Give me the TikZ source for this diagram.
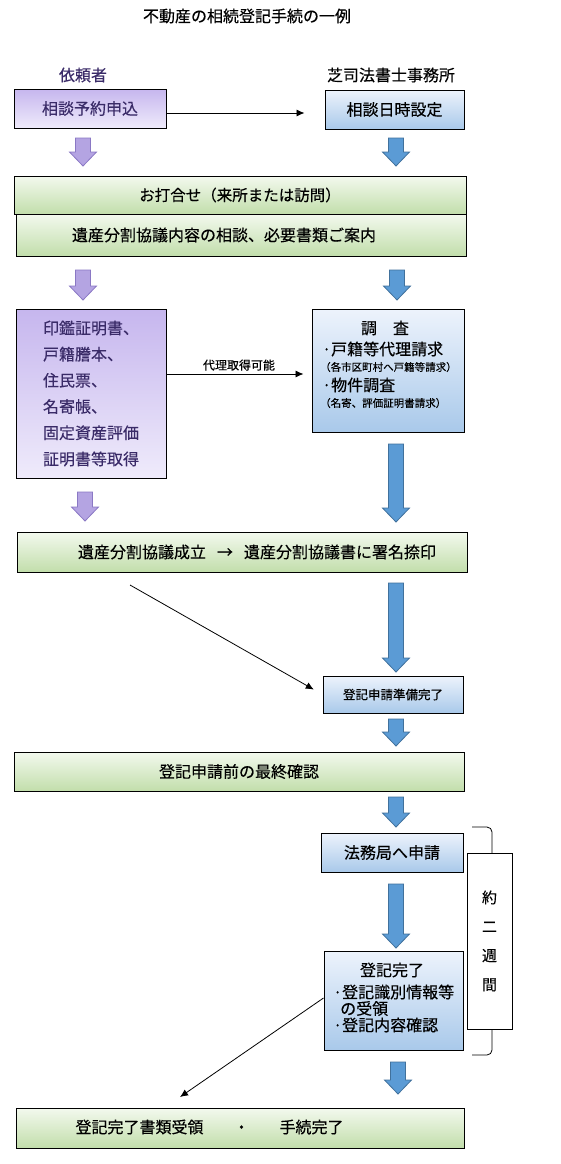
\documentclass[tikz,border=0pt]{standalone}
\usepackage{fontspec}
\setmainfont{Noto Sans CJK JP}[FakeBold=0.35]
\usetikzlibrary{arrows.meta,calc,positioning}
\def\ShaftW{7.5}
\def\HeadW{13.5}
\def\HeadH{14}
\definecolor{purpleTop}{HTML}{C6B6EE}
\definecolor{purpleBot}{HTML}{EFEBFB}
\definecolor{purpleText}{HTML}{3A2B68}
\definecolor{blueTop}{HTML}{EDF3FC}
\definecolor{blueBot}{HTML}{A9C9EA}
\definecolor{greenTop}{HTML}{F3F9EE}
\definecolor{greenBot}{HTML}{C2DEAB}
\definecolor{arrBlue}{HTML}{5B9BD5}
\definecolor{arrBlueLine}{HTML}{41719C}
\definecolor{arrPurple}{HTML}{B4A4E2}
\definecolor{arrPurpleLine}{HTML}{8A78C4}
\tikzset{
  box/.style={draw=black, line width=1pt, inner sep=0pt},
  greenbox/.style={box, top color=greenTop, bottom color=greenBot},
  bluebox/.style={box, top color=blueTop, bottom color=blueBot},
  purplebox/.style={box, top color=purpleTop, bottom color=purpleBot, text=purpleText},
  txt/.style={inner sep=0pt, font=\fontsize{16}{18}\selectfont},
  small/.style={inner sep=0pt, font=\fontsize{10.5}{12}\selectfont},
  link/.style={line width=0.8pt, -{Latex[length=8pt,width=7pt]}},
}
% block arrow: x, top, bottom, fill, line
\newcommand\FlowArrow[5]{%
  \draw[fill=#4, draw=#5, line width=0.8pt]
    (#1-\ShaftW,#2) -- (#1+\ShaftW,#2) -- (#1+\ShaftW,#3-\HeadH) -- (#1+\HeadW,#3-\HeadH)
    -- (#1,#3) -- (#1-\HeadW,#3-\HeadH) -- (#1-\ShaftW,#3-\HeadH) -- cycle;}

\begin{document}
\begin{tikzpicture}[x=1pt, y=-1pt]
\useasboundingbox[fill=white] (0,0) rectangle (561,1164);

\node[txt] (title) at (247,16) {不動産の相続登記手続の一例};
\node[txt, text=purpleText] (client) at (83,75) {依頼者};
\node[txt] (office) at (391,75) {芝司法書士事務所};

% first row
\node[purplebox, minimum width=152pt, minimum height=39pt, txt] (req) at (90,108.5) {相談予約申込};
\node[bluebox, minimum width=139pt, minimum height=39pt, txt] (set) at (394.5,109.5) {相談日時設定};
\draw[link, shorten >=20pt] (req.east |- 0,113) -- (set.west |- 0,113);

\FlowArrow{83}{138}{166}{arrPurple}{arrPurpleLine}
\FlowArrow{396}{138}{166}{arrBlue}{arrBlueLine}

% meeting
\node[greenbox, minimum width=452pt, minimum height=38pt, txt, font=\fontsize{15.5}{18}\selectfont] (meet) at (240,195) {お打合せ（来所または訪問）};
\node[greenbox, minimum width=450pt, minimum height=42pt] (guide) at (241,235) {};
\node[txt] (guidet) at (224,235) {遺産分割協議内容の相談、必要書類ご案内};

\FlowArrow{83}{270}{300}{arrPurple}{arrPurpleLine}
\FlowArrow{397}{270}{300}{arrBlue}{arrBlueLine}

% documents and survey
\node[purplebox, minimum width=150pt, minimum height=169pt, align=left,
  font=\fontsize{16}{26.2}\selectfont] (docs) at (91,393.5)
  {印鑑証明書、\\戸籍謄本、\\住民票、\\名寄帳、\\固定資産評価\\証明書等取得};
\node[bluebox, minimum width=152pt, minimum height=123pt] (svy) at (388,370.5) {};
\node[txt] (svyt) at (385,328) {調　査};
\node[txt, anchor=west] (svy1) at (322,349) {·戸籍等代理請求};
\node[small, anchor=west] (svy2) at (320,367) {（各市区町村へ戸籍等請求）};
\node[txt, anchor=west] (svy3) at (322,385) {·物件調査};
\node[small, anchor=west] (svy4) at (320,403) {（名寄、評価証明書請求）};
\draw[link, shorten >=8pt] (docs.east |- 0,374) -- node[above=3pt, inner sep=0pt,
  font=\fontsize{12}{13}\selectfont] (proxy) {代理取得可能} (svy.west |- 0,374);

\FlowArrow{396}{444}{522}{arrBlue}{arrBlueLine}
\FlowArrow{85}{492}{521}{arrPurple}{arrPurpleLine}

% agreement
\node[greenbox, minimum width=450pt, minimum height=40pt] (agree) at (242,552) {};
\node[txt] (agreet) at (257,552) {遺産分割協議成立\hspace{11pt}→\hspace{11pt}遺産分割協議書に署名捺印};

\coordinate (s1) at (130,585);
\FlowArrow{396}{583}{672}{arrBlue}{arrBlueLine}
\node[bluebox, minimum width=140pt, minimum height=37pt, font=\fontsize{12.5}{15}\selectfont] (ready) at (393,694.5) {登記申請準備完了};
\draw[link, shorten >=10pt] (s1) -- (ready.west);

\FlowArrow{396}{719}{746}{arrBlue}{arrBlueLine}
\node[greenbox, minimum width=450pt, minimum height=39pt, txt] (check) at (239,771.5) {登記申請前の最終確認};
\FlowArrow{396}{797}{827}{arrBlue}{arrBlueLine}

% application
\node[bluebox, minimum width=142pt, minimum height=39pt, txt] (apply) at (392,852.5) {法務局へ申請};
\draw[line width=0.8pt, rounded corners=5pt] (472,827) -- (492,827) -- (492,1055) -- (472,1055);
\node[box, fill=white, minimum width=45pt, minimum height=176pt, align=center,
  font=\fontsize{15}{29}\selectfont] (weeks) at (489.5,941) {約\\二\\週\\間};

\FlowArrow{396}{884}{948}{arrBlue}{arrBlueLine}
\node[bluebox, minimum width=139pt, minimum height=99pt] (done) at (393.5,1000.5) {};
\node[txt] (donet) at (392,970) {登記完了};
\node[txt, anchor=west] (done1) at (333,992) {·登記識別情報等};
\node[txt, anchor=west] (done2) at (340,1008.5) {の受領};
\node[txt, anchor=west] (done3) at (333,1025) {·登記内容確認};

\coordinate (e1) at (180,1097);
\draw[link] ([yshift=2.5pt]done.west) -- (e1);
\FlowArrow{398}{1062}{1094}{arrBlue}{arrBlueLine}

% end
\node[greenbox, minimum width=448pt, minimum height=40pt] (fin) at (240,1128) {};
\node[txt] (fint) at (209.5,1127) {登記完了書類受領\hspace{30pt}・\hspace{30pt}手続完了};
\end{tikzpicture}
\end{document}
